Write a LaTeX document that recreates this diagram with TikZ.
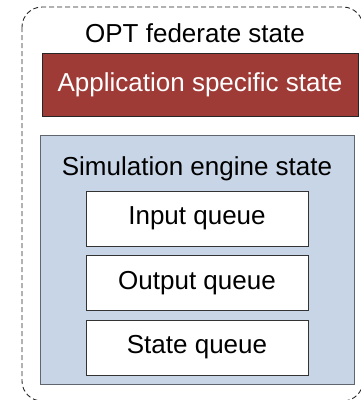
\documentclass[tikz,border=0pt]{standalone}
\usepackage{fontspec}
\setmainfont{Liberation Sans}
\definecolor{appred}{HTML}{9E3B37}
\definecolor{engblue}{HTML}{C8D5E6}
\definecolor{engedge}{HTML}{5F6670}
\begin{document}
\begin{tikzpicture}[x=1pt,y=-1pt,
  bigtext/.style={font=\fontsize{26}{30}\selectfont},
  lbl/.style={bigtext, inner sep=0pt, anchor=base},
  queuebox/.style={bigtext, draw=black!80, line width=0.8pt, fill=white, minimum width=222pt, minimum height=55pt, inner sep=0pt}]
  \useasboundingbox (0,0) rectangle (360,400);
  % outer federate container
  \draw[black!85, line width=0.9pt, dash pattern=on 5pt off 3pt, rounded corners=20pt]
    (22,7) rectangle (363,401);
  \node[lbl] (fedlabel) at (195,42) {OPT federate state};
  % application state
  \node[bigtext, draw=black!85, line width=0.8pt, fill=appred, minimum width=316pt, minimum height=63pt,
        inner sep=0pt, text=white] (app) at (200,84.5) {Application specific state};
  % simulation engine state
  \draw[engedge, fill=engblue, line width=0.8pt] (40,135) rectangle (354,384);
  \node[lbl] (englabel) at (197,175) {Simulation engine state};
  \node[queuebox] (inq) at (197,218.5) {Input queue};
  \node[queuebox] (outq) at (197,283) {Output queue};
  \node[queuebox] (stq) at (197,347.5) {State queue};
\end{tikzpicture}
\end{document}
